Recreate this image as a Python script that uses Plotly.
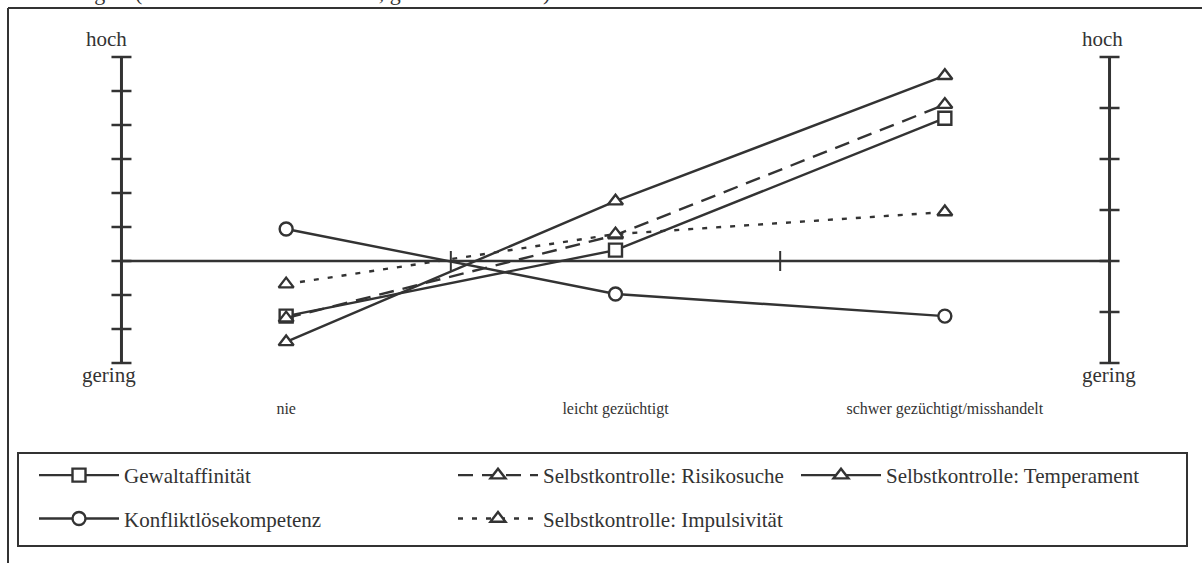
import plotly.graph_objects as go

# ---------------- data ----------------
categories = ["nie", "leicht gezüchtigt", "schwer gezüchtigt/misshandelt"]
gewaltaffinitaet = [-1.62, 0.32, 4.2]
konfliktloesekompetenz = [0.94, -0.97, -1.62]
risikosuche = [-1.68, 0.76, 4.6]
temperament = [-2.38, 1.76, 5.45]
impulsivitaet = [-0.68, 0.79, 1.44]
left_ticks = list(range(-3, 7))
right_ticks = list(range(-2, 5))
axis_top_label = "hoch"
axis_bottom_label = "gering"

# ---------------- layout geometry ----------------
W, H = 1202, 563
L, R, T, B = 105, 1126, 40, 380   # plot area incl. padding around the drawn axes
C = "#333333"
FONT = "Liberation Serif"
PAD_X = 0.05
PAD_L = 0.5
PAD_R = 1 / 3


def px2x(px):
    return (px - L) / (R - L)


def px2y(py):
    return (B - py) / (B - T)


fig = go.Figure()

marker_line = dict(color=C, width=2.4)
series = [
    ("Gewaltaffinität", gewaltaffinitaet, "square", "solid", "legend"),
    ("Konfliktlösekompetenz", konfliktloesekompetenz, "circle", "solid", "legend"),
    ("Selbstkontrolle: Risikosuche", risikosuche, "triangle-up", "15px,9px", "legend2"),
    ("Selbstkontrolle: Temperament", temperament, "triangle-up", "solid", "legend3"),
    ("Selbstkontrolle: Impulsivität", impulsivitaet, "triangle-up", "5px,9px", "legend2"),
]
for i, (name, vals, sym, dash, lg) in enumerate(series):
    fig.add_trace(go.Scatter(
        x=categories, y=vals, name=name, mode="lines+markers",
        line=dict(color=C, width=2.4, dash=dash),
        marker=dict(symbol=sym, size=13, color="white", line=marker_line),
        legend=lg, legendgroup=f"g{i}",
    ))

shapes = []
# left axis
shapes.append(dict(type="line", xref="x", yref="y", x0=-0.5, x1=-0.5,
                   y0=min(left_ticks), y1=max(left_ticks), line=dict(color=C, width=3)))
for v in left_ticks:
    shapes.append(dict(type="line", xref="x", yref="y", xsizemode="pixel", xanchor=-0.5,
                       x0=-10, x1=10, y0=v, y1=v, line=dict(color=C, width=2.5)))
# right axis
shapes.append(dict(type="line", xref="x", yref="y2", x0=2.5, x1=2.5,
                   y0=min(right_ticks), y1=max(right_ticks), line=dict(color=C, width=3)))
for v in right_ticks:
    shapes.append(dict(type="line", xref="x", yref="y2", xsizemode="pixel", xanchor=2.5,
                       x0=-10, x1=10, y0=v, y1=v, line=dict(color=C, width=2.5)))
# zero line + segment ticks
shapes.append(dict(type="line", xref="x", yref="y", x0=-0.5, x1=2.5, y0=0, y1=0,
                   line=dict(color=C, width=2.5)))
for xv in [0.5, 1.5]:
    shapes.append(dict(type="line", xref="x", yref="y", ysizemode="pixel", yanchor=0,
                       x0=xv, x1=xv, y0=-10, y1=10, line=dict(color=C, width=2)))
# outer frame (left and top)
shapes.append(dict(type="line", xref="paper", yref="paper", x0=px2x(8), x1=px2x(8),
                   y0=px2y(8), y1=px2y(570), line=dict(color=C, width=2)))
shapes.append(dict(type="line", xref="paper", yref="paper", x0=px2x(8), x1=px2x(1210),
                   y0=px2y(8), y1=px2y(8), line=dict(color=C, width=2)))
# legend box
shapes.append(dict(type="rect", xref="paper", yref="paper", x0=px2x(18), x1=px2x(1187),
                   y0=px2y(453), y1=px2y(546), line=dict(color=C, width=2)))

annotations = []
for xv, dx_h, dx_g in [(-0.5, -15, -12), (2.5, -7, -1)]:
    annotations.append(dict(x=xv, y=max(left_ticks), xref="x", yref="y", text=axis_top_label,
                            showarrow=False, yanchor="bottom", xshift=dx_h, yshift=4,
                            font=dict(family=FONT, size=21, color=C)))
    annotations.append(dict(x=xv, y=min(left_ticks), xref="x", yref="y", text=axis_bottom_label,
                            showarrow=False, yanchor="top", xshift=dx_g, yshift=2,
                            font=dict(family=FONT, size=21, color=C)))
# partially cut caption at the top
annotations.append(dict(x=px2x(128), y=px2y(7), xref="paper", yref="paper",
                        text="Erfahrungen", showarrow=False, xanchor="right", yanchor="bottom",
                        font=dict(family=FONT, size=22, color=C)))
annotations.append(dict(x=px2x(133), y=px2y(7), xref="paper", yref="paper",
                        text="(standardisierte Mittelwerte, gewichtete Daten)", showarrow=False,
                        xanchor="left", yanchor="bottom",
                        font=dict(family=FONT, size=22, color=C)))

legend_common = dict(
    orientation="v", xanchor="left", yanchor="top", bgcolor="rgba(0,0,0,0)",
    font=dict(family=FONT, size=21, color=C), itemwidth=80,
    traceorder="grouped", tracegroupgap=13,
)

fig.update_layout(
    width=W, height=H, autosize=False,
    margin=dict(l=L, r=W - R, t=T, b=H - B, pad=0),
    paper_bgcolor="white", plot_bgcolor="white",
    font=dict(family=FONT, color=C),
    xaxis=dict(type="category", range=[-0.5 - PAD_X, 2.5 + PAD_X], showgrid=False,
               zeroline=False, showline=False, ticks="", ticklabelstandoff=17,
               tickfont=dict(family=FONT, size=16, color=C)),
    yaxis=dict(range=[min(left_ticks) - PAD_L, max(left_ticks) + PAD_L], visible=False),
    yaxis2=dict(range=[min(right_ticks) - PAD_R, max(right_ticks) + PAD_R], visible=False,
                overlaying="y", side="right"),
    shapes=shapes, annotations=annotations,
    legend=dict(x=px2x(34), y=px2y(455), **legend_common),
    legend2=dict(x=px2x(453), y=px2y(455), **legend_common),
    legend3=dict(x=px2x(796), y=px2y(455), **legend_common),
)

fig.write_html("out.html", config={"displayModeBar": False},
               post_script="document.body.style.margin='0';")
